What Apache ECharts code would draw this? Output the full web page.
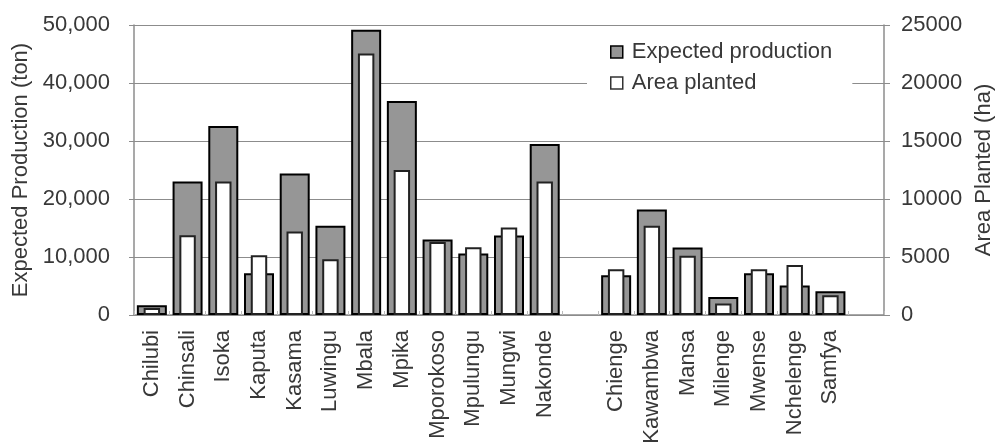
<!DOCTYPE html>
<html>
<head>
<meta charset="utf-8">
<script src="https://cdn.jsdelivr.net/npm/echarts@6/dist/echarts.min.js"></script>
<style>
  html, body { margin: 0; padding: 0; background: #fff; }
  #chart { width: 995px; height: 446px; }
</style>
</head>
<body>
<div id="chart"></div>
<script>
// Districts (blank slots separate the two provinces and pad the right end)
const districts = ['Chilubi', 'Chinsali', 'Isoka', 'Kaputa', 'Kasama', 'Luwingu', 'Mbala', 'Mpika',
  'Mporokoso', 'Mpulungu', 'Mungwi', 'Nakonde', '',
  'Chienge', 'Kawambwa', 'Mansa', 'Milenge', 'Mwense', 'Nchelenge', 'Samfya', ' '];

// Expected production (ton)
const expectedProduction = [1700, 23000, 32600, 7200, 24400, 15400, 49200, 36900,
  13000, 10600, 13700, 29500, null,
  6850, 18200, 11650, 3100, 7200, 5100, 4100, null];

// Area planted (ha)
const areaPlanted = [600, 6870, 11500, 5150, 7200, 4800, 22550, 12500,
  6300, 5830, 7550, 11500, null,
  3950, 7700, 5100, 1000, 3950, 4300, 1700, null];

const leftTicks = [0, 10000, 20000, 30000, 40000, 50000];
const rightTicks = [0, 5000, 10000, 15000, 20000, 25000];

const FONT = 'Liberation Sans, Arial, sans-serif';
const FS = 22;
const TEXT = '#383838';
const LINE = '#8c8c8c';

const chart = echarts.init(document.getElementById('chart'), null, { renderer: 'canvas' });

chart.setOption({
  animation: false,
  textStyle: { fontFamily: FONT },
  grid: { left: 134, right: 111, top: 25, bottom: 131, containLabel: false, outerBoundsMode: 'none' },
  legend: {
    orient: 'vertical',
    left: 587,
    top: 37,
    padding: [4, 20, 4, 23],
    backgroundColor: '#fff',
    itemWidth: 12,
    itemHeight: 12,
    itemGap: 9,
    icon: 'rect',
    textStyle: { fontSize: FS, color: TEXT, fontFamily: FONT, padding: [0, 0, 0, 4] },
    data: [
      { name: 'Expected production', itemStyle: { color: '#969696', borderColor: '#000', borderWidth: 1.5 } },
      { name: 'Area planted', itemStyle: { color: '#fff', borderColor: '#333', borderWidth: 1.5 } }
    ]
  },
  xAxis: [
    {
      type: 'category',
      data: districts,
      axisLine: { lineStyle: { color: LINE, width: 1.5 } },
      axisTick: { show: true, inside: true, length: 4, lineStyle: { color: '#bbb' } },
      axisLabel: {
        rotate: 90, interval: 0, margin: 15,
        fontSize: FS, color: TEXT, fontFamily: FONT
      }
    },
    {
      type: 'category',
      data: districts,
      show: false
    }
  ],
  yAxis: [
    {
      type: 'value',
      min: leftTicks[0], max: leftTicks[leftTicks.length - 1], interval: 10000,
      name: 'Expected Production (ton)',
      nameLocation: 'middle',
      nameGap: 100,
      nameTextStyle: { fontSize: FS, color: TEXT, fontFamily: FONT },
      axisLine: { show: true, lineStyle: { color: LINE, width: 1.5 } },
      axisTick: { show: true, length: 5, lineStyle: { color: LINE } },
      axisLabel: {
        margin: 24, fontSize: FS, color: TEXT, fontFamily: FONT,
        formatter: v => v.toLocaleString('en-US')
      },
      splitLine: { show: true, lineStyle: { color: LINE, width: 1 } }
    },
    {
      type: 'value',
      min: rightTicks[0], max: rightTicks[rightTicks.length - 1], interval: 5000,
      name: 'Area Planted (ha)',
      nameLocation: 'middle',
      nameGap: 89,
      nameTextStyle: { fontSize: FS, color: TEXT, fontFamily: FONT },
      axisLine: { show: true, lineStyle: { color: LINE, width: 1.5 } },
      axisTick: { show: true, length: 6, lineStyle: { color: LINE } },
      axisLabel: {
        margin: 17, fontSize: FS, color: TEXT, fontFamily: FONT,
        formatter: v => String(v)
      },
      splitLine: { show: false }
    }
  ],
  series: [
    {
      name: 'Expected production',
      type: 'bar',
      xAxisIndex: 0,
      yAxisIndex: 0,
      data: expectedProduction,
      barWidth: '84%',
      itemStyle: { color: '#969696', borderColor: '#000', borderWidth: 2 }
    },
    {
      name: 'Area planted',
      type: 'bar',
      xAxisIndex: 1,
      yAxisIndex: 1,
      data: areaPlanted,
      barWidth: '46%',
      itemStyle: { color: '#fff', borderColor: '#222', borderWidth: 2 }
    }
  ]
});
</script>
</body>
</html>
